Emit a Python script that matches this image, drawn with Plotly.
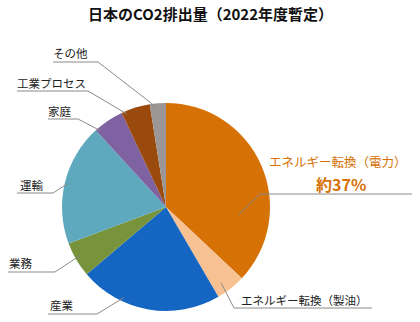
import math
import plotly.graph_objects as go

# Sector shares of CO2 emissions (%), clockwise from 12 o'clock
sectors = ["エネルギー転換（電力）", "エネルギー転換（製油）", "産業", "業務",
           "運輸", "家庭", "工業プロセス", "その他"]
shares = [37.0, 4.6, 22.2, 5.5, 18.9, 4.8, 4.5, 2.5]
colors = ["#D67106", "#F8C192", "#1565C2", "#77933C",
          "#5FA9BF", "#7E62A1", "#9A4A0C", "#9C9696"]

W, H = 420, 322
CX, CY, R = 166, 207, 104  # pie centre and radius in pixels

fig = go.Figure(go.Pie(
    labels=sectors, values=shares, sort=False, direction="clockwise",
    rotation=0, marker=dict(colors=colors, line=dict(width=0)),
    textinfo="none", hoverinfo="label+percent", showlegend=False,
    domain=dict(x=[(CX - R) / W, (CX + R) / W],
                y=[(H - CY - R) / H, (H - CY + R) / H]),
))

# label layout: (slice index, position along slice, radius factor,
#                elbow x, underline y, underline far end x, text x, text y, size, colour)
callouts = [
    (0, 0.72, 0.70, 260, 194, 412, None, None, None, None),
    (1, 0.65, 0.90, 234, 308, 372, 304, 300, 11.5, "#222"),
    (2, 0.69, 0.96, 97, 314, 48, 62, 305, 11.5, "#222"),
    (3, 0.55, 0.95, 55, 272, 8, 21, 263, 11.5, "#222"),
    (4, 0.50, 0.97, 53, 193, 17, 32, 185, 11.5, "#222"),
    (5, 0.10, 0.97, 78, 119, 48, 60, 111, 11.5, "#222"),
    (6, 0.15, 0.97, 88, 91, 17, 51, 83, 11.5, "#222"),
    (7, 0.35, 0.97, 98, 62, 53, 70, 53, 11.5, "#222"),
]

total = sum(shares)
starts = []
acc = 0.0
for v in shares:
    starts.append(acc)
    acc += v


def px(x):
    return x / W


def py(y):
    return 1 - y / H


shapes = []
annotations = []
for idx, frac, rf, ex, uy, fx, tx, ty, size, col in callouts:
    ang = (starts[idx] + frac * shares[idx]) / total * 2 * math.pi
    ax = CX + rf * R * math.sin(ang)
    ay = CY - rf * R * math.cos(ang)
    line = dict(color="#8a8a8a", width=1)
    shapes.append(dict(type="line", xref="paper", yref="paper",
                       x0=px(ax), y0=py(ay), x1=px(ex), y1=py(uy), line=line))
    shapes.append(dict(type="line", xref="paper", yref="paper",
                       x0=px(ex), y0=py(uy), x1=px(fx), y1=py(uy), line=line))
    if tx is not None:
        annotations.append(dict(text=sectors[idx], x=px(tx), y=py(ty),
                                xref="paper", yref="paper", showarrow=False,
                                xanchor="center", yanchor="middle",
                                font=dict(size=size, color=col)))

# headline slice label
annotations.append(dict(text=sectors[0], x=px(338), y=py(162), xref="paper",
                        yref="paper", showarrow=False, xanchor="center",
                        yanchor="middle", font=dict(size=12.5, color="#D67106")))
annotations.append(dict(text=f"<b>約{shares[0]:.0f}%</b>", x=px(341), y=py(184),
                        xref="paper", yref="paper", showarrow=False,
                        xanchor="center", yanchor="middle",
                        font=dict(size=16, color="#D67106")))

annotations.append(dict(text="<b>日本のCO2排出量（2022年度暫定）</b>", x=0.5,
                        y=py(14), xref="paper", yref="paper", showarrow=False,
                        xanchor="center", yanchor="middle",
                        font=dict(size=15, color="#111")))

fig.update_layout(
    width=W, height=H, margin=dict(l=0, r=0, t=0, b=0),
    paper_bgcolor="white", plot_bgcolor="white",
    font=dict(family="Noto Sans CJK JP, sans-serif"),
    shapes=shapes, annotations=annotations,
)

fig.write_html("out.html")
